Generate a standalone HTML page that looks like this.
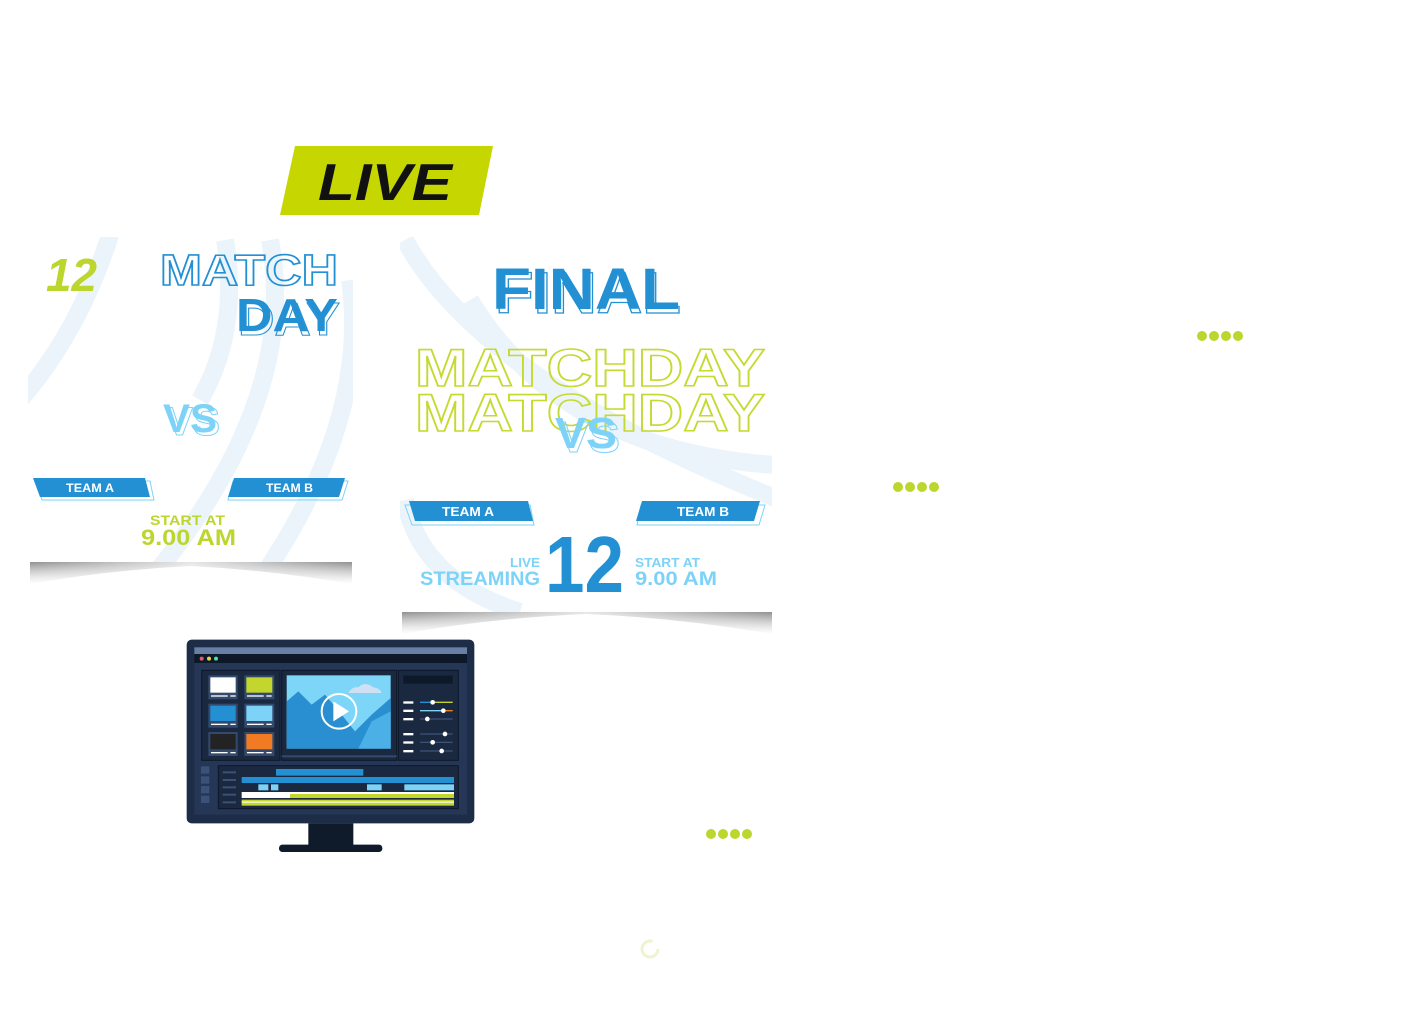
<!DOCTYPE html>
<html><head><meta charset="utf-8"><style>
html,body{margin:0;padding:0;background:#fff;}
svg{display:block;}
text{font-family:"Liberation Sans",sans-serif;font-weight:bold;}
</style></head><body>
<svg width="1408" height="1036" viewBox="0 0 1408 1036" xmlns="http://www.w3.org/2000/svg">
<defs>
<linearGradient id="sh" x1="0" y1="0" x2="0" y2="1"><stop offset="0" stop-color="#333" stop-opacity="0.6"/><stop offset="1" stop-color="#999" stop-opacity="0"/></linearGradient>
<linearGradient id="shx" x1="0" y1="0" x2="1" y2="0"><stop offset="0" stop-color="#fff" stop-opacity="0.1"/><stop offset="0.5" stop-color="#fff" stop-opacity="0.8"/><stop offset="1" stop-color="#fff" stop-opacity="0.1"/></linearGradient>
<clipPath id="c1"><rect x="28" y="237" width="325" height="325"/></clipPath>
<clipPath id="c2"><rect x="400" y="237" width="372" height="375"/></clipPath>
</defs>

<polygon points="295,146 493,146 479,215 280,215" fill="#c5d600"/>
<text x="318" y="200" font-size="52" font-style="italic" fill="#111" textLength="134" lengthAdjust="spacingAndGlyphs">LIVE</text>

<path d="M30,562 L352,562 L352,584 Q270,570 190,566 Q110,570 30,584 Z" fill="url(#sh)"/>
<rect x="30" y="562" width="322" height="24" fill="url(#shx)"/>
<rect x="28" y="237" width="325" height="325" fill="#fff"/>
<g clip-path="url(#c1)" fill="none" stroke="#ebf4fa" stroke-width="18">
<path d="M110,235 Q80,330 20,400"/>
<path d="M270,240 Q300,400 150,580"/>
<path d="M350,280 Q370,420 260,580"/>
<path d="M225,240 Q240,330 200,400"/>
</g>
<text x="46" y="291" font-size="46" font-style="italic" fill="#bcd62e" textLength="51" lengthAdjust="spacingAndGlyphs">12</text>
<text x="160" y="285" font-size="44" fill="none" stroke="#2390d4" stroke-width="1.6" textLength="178" lengthAdjust="spacingAndGlyphs">MATCH</text>
<text x="238" y="335" font-size="46" fill="none" stroke="#2390d4" stroke-width="1" textLength="102" lengthAdjust="spacingAndGlyphs">DAY</text>
<text x="236" y="331" font-size="46" fill="#2390d4" textLength="102" lengthAdjust="spacingAndGlyphs">DAY</text>
<text x="166" y="435" font-size="40" fill="none" stroke="#7dd3f7" stroke-width="1" textLength="54" lengthAdjust="spacingAndGlyphs">VS</text>
<text x="163" y="432" font-size="40" fill="#7dd3f7" textLength="54" lengthAdjust="spacingAndGlyphs">VS</text>
<polygon points="36,481 150,481 154,500 42,500" fill="none" stroke="#7dd3f7" stroke-width="1"/>
<polygon points="33,478 145,478 150,497 40,497" fill="#2390d4"/>
<text x="66" y="492" font-size="12" fill="#fff" textLength="48" lengthAdjust="spacingAndGlyphs">TEAM A</text>
<polygon points="233,481 348,481 342,500 228,500" fill="none" stroke="#7dd3f7" stroke-width="1"/>
<polygon points="234,478 345,478 339,497 228,497" fill="#2390d4"/>
<text x="266" y="492" font-size="12" fill="#fff" textLength="47" lengthAdjust="spacingAndGlyphs">TEAM B</text>
<text x="150" y="525" font-size="14" fill="#bcd62e" textLength="75" lengthAdjust="spacingAndGlyphs">START AT</text>
<text x="141" y="545" font-size="22" fill="#bcd62e" textLength="95" lengthAdjust="spacingAndGlyphs">9.00 AM</text>

<path d="M402,612 L772,612 L772,634 Q680,618 586,614 Q490,618 402,634 Z" fill="url(#sh)"/>
<rect x="402" y="612" width="370" height="24" fill="url(#shx)"/>
<rect x="400" y="237" width="372" height="375" fill="#fff"/>
<g clip-path="url(#c2)" fill="none" stroke="#ebf4fa" stroke-width="18">
<path d="M405,240 Q480,380 780,500"/>
<path d="M470,300 Q560,450 775,465"/>
<path d="M405,500 Q420,580 520,612"/>
</g>
<text x="495" y="313" font-size="58" fill="none" stroke="#2390d4" stroke-width="1.2" textLength="186" lengthAdjust="spacingAndGlyphs">FINAL</text>
<text x="492" y="309" font-size="58" fill="#2390d4" textLength="188" lengthAdjust="spacingAndGlyphs">FINAL</text>
<text x="415" y="386" font-size="53" fill="none" stroke="#c5d92e" stroke-width="1.6" textLength="350" lengthAdjust="spacingAndGlyphs">MATCHDAY</text>
<text x="415" y="431" font-size="53" fill="none" stroke="#c5d92e" stroke-width="1.6" textLength="350" lengthAdjust="spacingAndGlyphs">MATCHDAY</text>
<text x="558" y="452" font-size="44" fill="none" stroke="#7dd3f7" stroke-width="1" textLength="62" lengthAdjust="spacingAndGlyphs">VS</text>
<text x="555" y="448" font-size="44" fill="#7dd3f7" textLength="62" lengthAdjust="spacingAndGlyphs">VS</text>
<polygon points="405,505 530,505 534,525 412,525" fill="none" stroke="#7dd3f7" stroke-width="1"/>
<polygon points="409,501 528,501 533,521 415,521" fill="#2390d4"/>
<text x="442" y="516" font-size="13" fill="#fff" textLength="52" lengthAdjust="spacingAndGlyphs">TEAM A</text>
<polygon points="641,505 765,505 759,525 637,525" fill="none" stroke="#7dd3f7" stroke-width="1"/>
<polygon points="642,501 760,501 754,521 636,521" fill="#2390d4"/>
<text x="677" y="516" font-size="13" fill="#fff" textLength="52" lengthAdjust="spacingAndGlyphs">TEAM B</text>
<text x="545" y="592" font-size="80" fill="#2390d4" textLength="79" lengthAdjust="spacingAndGlyphs">12</text>
<text x="510" y="567" font-size="13" fill="#7dd3f7" textLength="30" lengthAdjust="spacingAndGlyphs">LIVE</text>
<text x="420" y="585" font-size="19" fill="#7dd3f7" textLength="120" lengthAdjust="spacingAndGlyphs">STREAMING</text>
<text x="635" y="567" font-size="13" fill="#7dd3f7" textLength="65" lengthAdjust="spacingAndGlyphs">START AT</text>
<text x="635" y="585" font-size="19" fill="#7dd3f7" textLength="82" lengthAdjust="spacingAndGlyphs">9.00 AM</text>

<g fill="#bcd62e">
<circle cx="1202" cy="336" r="5"/><circle cx="1214" cy="336" r="5"/><circle cx="1226" cy="336" r="5"/><circle cx="1238" cy="336" r="5"/>
<circle cx="898" cy="487" r="5"/><circle cx="910" cy="487" r="5"/><circle cx="922" cy="487" r="5"/><circle cx="934" cy="487" r="5"/>
<circle cx="711" cy="834" r="5"/><circle cx="723" cy="834" r="5"/><circle cx="735" cy="834" r="5"/><circle cx="747" cy="834" r="5"/>
</g>
<circle cx="650" cy="949" r="8" fill="none" stroke="#eef4d0" stroke-width="3" stroke-dasharray="40 10"/>

<svg x="185" y="638" width="292" height="216" viewBox="0 0 876 648">
<rect x="5" y="5" width="863" height="551" rx="15" fill="#1e2d47"/>
<rect x="28" y="28" width="818" height="20" fill="#6a7fa6"/>
<rect x="28" y="48" width="818" height="27" fill="#0d1829"/>
<circle cx="50" cy="62" r="6" fill="#e85d5d"/><circle cx="72" cy="62" r="6" fill="#f0d43a"/><circle cx="93" cy="62" r="6" fill="#4ee0a0"/>
<rect x="28" y="75" width="818" height="455" fill="#253656"/>
<rect x="50" y="97" width="235" height="270" fill="#1a2840" stroke="#0d1829" stroke-width="3"/>
<g fill="#33496e">
<rect x="70" y="112" width="88" height="72"/><rect x="178" y="112" width="90" height="72"/>
<rect x="70" y="197" width="88" height="72"/><rect x="178" y="197" width="90" height="72"/>
<rect x="70" y="282" width="88" height="72"/><rect x="178" y="282" width="90" height="72"/>
</g>
<rect x="76" y="118" width="76" height="46" fill="#fff"/><rect x="184" y="118" width="78" height="46" fill="#c2d62d"/>
<rect x="76" y="203" width="76" height="46" fill="#2390d4"/><rect x="184" y="203" width="78" height="46" fill="#7dd3f7"/>
<rect x="76" y="288" width="76" height="46" fill="#232323"/><rect x="184" y="288" width="78" height="46" fill="#f07b23"/>
<g fill="#fff"><rect x="78" y="172" width="50" height="4"/><rect x="136" y="172" width="16" height="4"/><rect x="186" y="172" width="50" height="4"/><rect x="244" y="172" width="16" height="4"/>
<rect x="78" y="257" width="50" height="4"/><rect x="136" y="257" width="16" height="4"/><rect x="186" y="257" width="50" height="4"/><rect x="244" y="257" width="16" height="4"/>
<rect x="78" y="342" width="50" height="4"/><rect x="136" y="342" width="16" height="4"/><rect x="186" y="342" width="50" height="4"/><rect x="244" y="342" width="16" height="4"/></g>
<rect x="290" y="97" width="345" height="270" fill="#1a2840" stroke="#0d1829" stroke-width="3"/>
<rect x="305" y="112" width="312" height="220" fill="#7dd6f7"/>
<path d="M305,190 L340,160 L380,200 L420,170 L470,230 L510,280 L560,230 L617,180 L617,332 L305,332 Z" fill="#2a8fd0"/>
<path d="M520,332 L560,250 L617,220 L617,332 Z" fill="#4ab0e6"/>
<path d="M490,165 Q500,145 520,148 Q540,128 565,148 Q585,150 590,165 Z" fill="#cfe0f5"/>
<circle cx="462" cy="220" r="52" fill="none" stroke="#fff" stroke-width="6"/>
<polygon points="445,190 445,250 492,220" fill="#fff"/>
<rect x="290" y="352" width="345" height="6" fill="#33496e"/>
<rect x="640" y="97" width="180" height="270" fill="#1a2840" stroke="#0d1829" stroke-width="3"/>
<rect x="655" y="113" width="148" height="24" fill="#0d1829"/>
<g fill="#fff"><rect x="655" y="190" width="30" height="7"/><rect x="655" y="215" width="30" height="7"/><rect x="655" y="240" width="30" height="7"/><rect x="655" y="285" width="30" height="7"/><rect x="655" y="310" width="30" height="7"/><rect x="655" y="336" width="30" height="7"/></g>
<g fill="#3b5178"><rect x="705" y="191" width="98" height="4"/><rect x="705" y="216" width="98" height="4"/><rect x="705" y="241" width="98" height="4"/><rect x="705" y="286" width="98" height="4"/><rect x="705" y="311" width="98" height="4"/><rect x="705" y="337" width="98" height="4"/></g>
<rect x="705" y="191" width="38" height="4" fill="#2390d4"/><rect x="743" y="191" width="60" height="4" fill="#c2d62d"/>
<rect x="705" y="216" width="70" height="4" fill="#7dd3f7"/><rect x="775" y="216" width="28" height="4" fill="#f07b23"/>
<g fill="#fff"><circle cx="743" cy="193" r="7"/><circle cx="775" cy="218" r="7"/><circle cx="727" cy="243" r="7"/><circle cx="780" cy="288" r="7"/><circle cx="743" cy="313" r="7"/><circle cx="770" cy="339" r="7"/></g>
<rect x="100" y="383" width="720" height="129" fill="#1a2840" stroke="#0d1829" stroke-width="3"/>
<g fill="#3b5178"><rect x="48" y="385" width="25" height="22"/><rect x="48" y="415" width="25" height="22"/><rect x="48" y="444" width="25" height="22"/><rect x="48" y="473" width="25" height="22"/></g>
<rect x="273" y="393" width="262" height="20" fill="#2390d4"/>
<rect x="170" y="417" width="637" height="18" fill="#2390d4"/>
<rect x="220" y="439" width="30" height="18" fill="#7dd3f7"/><rect x="258" y="439" width="22" height="18" fill="#7dd3f7"/><rect x="546" y="439" width="44" height="18" fill="#7dd3f7"/><rect x="658" y="439" width="149" height="18" fill="#7dd3f7"/>
<rect x="170" y="462" width="637" height="18" fill="#fff"/><rect x="315" y="468" width="492" height="12" fill="#c2d62d"/>
<rect x="170" y="485" width="637" height="18" fill="#c2d62d"/><rect x="170" y="490" width="637" height="5" fill="#fff" opacity="0.7"/>
<g fill="#3b5178"><rect x="113" y="400" width="40" height="6"/><rect x="113" y="423" width="40" height="6"/><rect x="113" y="445" width="40" height="6"/><rect x="113" y="467" width="40" height="6"/><rect x="113" y="490" width="40" height="6"/></g>
<rect x="370" y="556" width="135" height="66" fill="#0f1a2b"/>
<rect x="282" y="620" width="310" height="22" rx="10" fill="#0f1a2b"/>
</svg>
</svg>
</body></html>
